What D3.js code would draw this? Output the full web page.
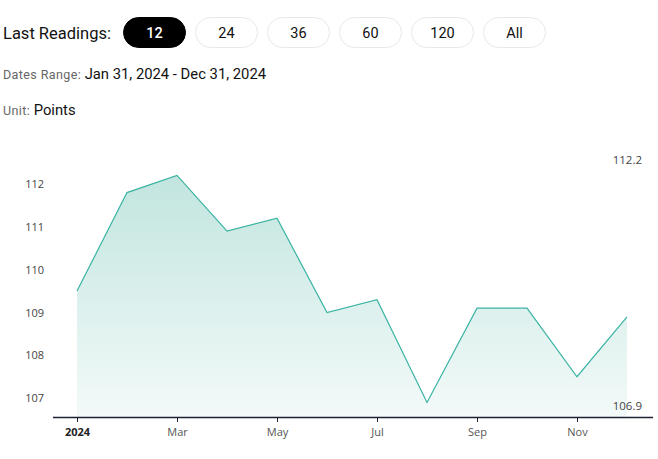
<!DOCTYPE html>
<html><head><meta charset="utf-8">
<script src="https://cdn.jsdelivr.net/npm/d3@7"></script>
<style>
body{margin:0;background:#fff;font-family:Roboto,"Open Sans",sans-serif;}
svg{display:block;}
</style></head>
<body><svg id="c" width="658" height="459"></svg>
<script>
const months = ["2024-01-01","2024-02-01","2024-03-01","2024-04-01","2024-05-01","2024-06-01","2024-07-01","2024-08-01","2024-09-01","2024-10-01","2024-11-01","2024-12-01"];
const values = [109.5,111.8,112.2,110.9,111.2,109.0,109.3,106.9,109.1,109.1,107.5,108.9];
const buttons = ["12","24","36","60","120","All"];
const yTicks = [107,108,109,110,111,112];
const xTickDates = ["2024-01-01","2024-03-01","2024-05-01","2024-07-01","2024-09-01","2024-11-01"];
const xTickLabels = ["2024","Mar","May","Jul","Sep","Nov"];

const svg = d3.select("#c");
const parse = d3.timeParse("%Y-%m-%d");
const data = months.map((m,i)=>({d:parse(m),v:values[i]}));

// header
svg.append("text").attr("x",3).attr("y",39).attr("font-size",16.5).attr("fill","#111").text("Last Readings:");
const bg = svg.append("g");
buttons.forEach((b,i)=>{
  const x = 123 + i*72;
  const active = i===0;
  bg.append("rect").attr("x",x+0.5).attr("y",17.5).attr("width",62).attr("height",30).attr("rx",15)
    .attr("fill",active?"#000":"#fff").attr("stroke",active?"#000":"#e8e8e8");
  bg.append("text").attr("x",x+31.5).attr("y",38).attr("text-anchor","middle").attr("font-size",14.5)
    .attr("fill",active?"#fff":"#111").attr("font-weight",active?500:400).text(b);
});
const t1 = svg.append("text").attr("x",3).attr("y",79);
t1.append("tspan").attr("font-size",12.5).attr("letter-spacing",0.4).attr("fill","#666").text("Dates Range: ");
t1.append("tspan").attr("font-size",14.8).attr("fill","#111").text("Jan 31, 2024 - Dec 31, 2024");
const t2 = svg.append("text").attr("x",3).attr("y",115);
t2.append("tspan").attr("font-size",12.5).attr("letter-spacing",0.4).attr("fill","#666").text("Unit: ");
t2.append("tspan").attr("font-size",14.8).attr("fill","#111").text("Points");

// scales
const xs = d3.scalePoint().domain(months).range([77,627]);
const vmin = d3.min(values), vmax = d3.max(values);
const y = d3.scaleLinear().domain([106,112]).range([441,184]);

const defs = svg.append("defs");
const grad = defs.append("linearGradient").attr("id","g").attr("x1",0).attr("x2",0).attr("y1",0).attr("y2",1);
grad.append("stop").attr("offset","0%").attr("stop-color","#c2e5df");
grad.append("stop").attr("offset","100%").attr("stop-color","#f3faf9");

const X = (d,i)=>xs(months[i]);
svg.append("path").datum(data)
  .attr("d",d3.area().x(X).y0(417).y1(d=>y(d.v)))
  .attr("fill","url(#g)");
svg.append("path").datum(data)
  .attr("d",d3.line().x(X).y(d=>y(d.v)))
  .attr("fill","none").attr("stroke","#3ab3a3").attr("stroke-width",1.2);

// y axis labels
yTicks.forEach(t=>{
  svg.append("text").attr("x",44).attr("y",y(t)+4).attr("text-anchor","end")
    .attr("font-family","'Open Sans',sans-serif").attr("font-size",11).attr("fill","#444").text(t);
});

// x axis
svg.append("line").attr("x1",53).attr("x2",653).attr("y1",417.5).attr("y2",417.5).attr("stroke","#1f2233").attr("stroke-width",1.3);
xTickDates.forEach((dStr,i)=>{
  const px = Math.round(xs(dStr))+0.5;
  svg.append("line").attr("x1",px).attr("x2",px).attr("y1",417).attr("y2",422).attr("stroke","#1f2233");
  svg.append("text").attr("x",px).attr("y",436).attr("text-anchor","middle")
    .attr("font-family","'Open Sans',sans-serif").attr("font-size",11)
    .attr("font-weight",i===0?700:400).attr("fill",i===0?"#222":"#555").text(xTickLabels[i]);
});

// max/min labels
svg.append("text").attr("x",642).attr("y",164).attr("text-anchor","end")
  .attr("font-family","'Open Sans',sans-serif").attr("font-size",11.5).attr("fill","#444").text(vmax.toFixed(1));
svg.append("text").attr("x",642).attr("y",410).attr("text-anchor","end")
  .attr("font-family","'Open Sans',sans-serif").attr("font-size",11.5).attr("fill","#444").text(vmin.toFixed(1));
</script></body></html>
